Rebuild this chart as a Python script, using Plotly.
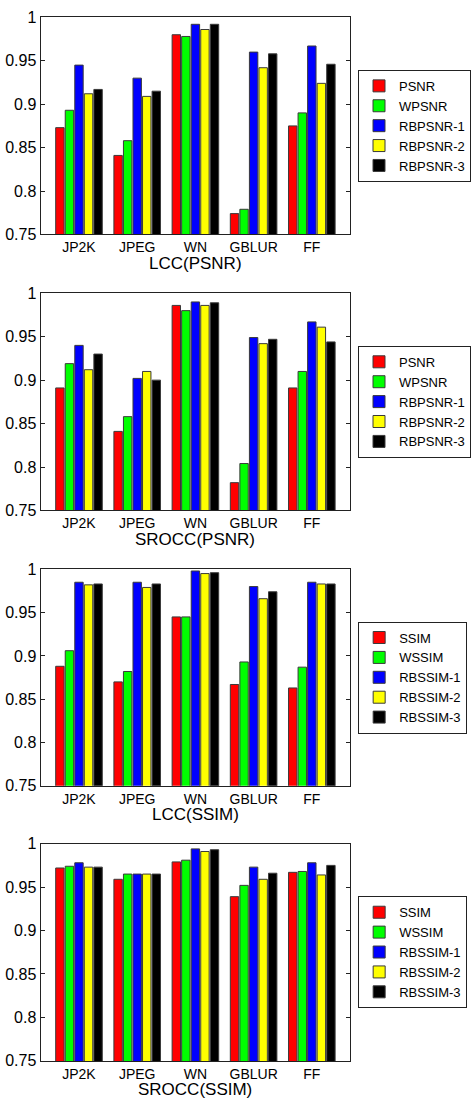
import plotly.graph_objects as go

categories = ["JP2K", "JPEG", "WN", "GBLUR", "FF"]

psnr_names = ["PSNR", "WPSNR", "RBPSNR-1", "RBPSNR-2", "RBPSNR-3"]
ssim_names = ["SSIM", "WSSIM", "RBSSIM-1", "RBSSIM-2", "RBSSIM-3"]
colors = ["#FF0000", "#00FF00", "#0000FF", "#FFFF00", "#000000"]

# one list per method, values per category
lcc_psnr = [
    [0.873, 0.841, 0.980, 0.774, 0.875],
    [0.893, 0.858, 0.978, 0.779, 0.890],
    [0.945, 0.930, 0.992, 0.960, 0.967],
    [0.912, 0.909, 0.986, 0.942, 0.924],
    [0.917, 0.915, 0.992, 0.958, 0.946],
]
srocc_psnr = [
    [0.891, 0.841, 0.986, 0.782, 0.891],
    [0.919, 0.858, 0.980, 0.804, 0.910],
    [0.940, 0.902, 0.990, 0.949, 0.967],
    [0.912, 0.910, 0.986, 0.942, 0.961],
    [0.930, 0.900, 0.989, 0.947, 0.944],
]
lcc_ssim = [
    [0.888, 0.870, 0.945, 0.867, 0.863],
    [0.906, 0.882, 0.945, 0.893, 0.887],
    [0.985, 0.985, 0.998, 0.980, 0.985],
    [0.982, 0.979, 0.995, 0.966, 0.983],
    [0.983, 0.983, 0.996, 0.974, 0.983],
]
srocc_ssim = [
    [0.972, 0.959, 0.979, 0.939, 0.967],
    [0.974, 0.965, 0.981, 0.952, 0.968],
    [0.978, 0.965, 0.994, 0.973, 0.978],
    [0.973, 0.965, 0.991, 0.959, 0.964],
    [0.973, 0.965, 0.993, 0.966, 0.975],
]

titles = ["LCC(PSNR)", "SROCC(PSNR)", "LCC(SSIM)", "SROCC(SSIM)"]
y_ticks = [0.75, 0.8, 0.85, 0.9, 0.95, 1.0]
y_ticktext = ["0.75", "0.8", "0.85", "0.9", "0.95", "1"]

panels = [
    (lcc_psnr, psnr_names),
    (srocc_psnr, psnr_names),
    (lcc_ssim, ssim_names),
    (srocc_ssim, ssim_names),
]

W, H = 471, 1107
# plot areas in pixels (top, bottom)
areas = [(9.5, 230.0), (289.7, 510.3), (570.0, 790.0), (848.7, 1069.3)]
x_dom = [41 / W, 354 / W]

FONT = "Arial, 'Liberation Sans', Helvetica, sans-serif"

fig = go.Figure()
layout_updates = {}
annotations = []
for i, ((data, names), title, (top, bot)) in enumerate(zip(panels, titles, areas)):
    n = i + 1
    xa = "x" if n == 1 else f"x{n}"
    ya = "y" if n == 1 else f"y{n}"
    lg = "legend" if n == 1 else f"legend{n}"
    for vals, name, col in zip(data, names, colors):
        fig.add_trace(go.Bar(
            x=categories, y=vals, name=name, xaxis=xa, yaxis=ya, legend=lg,
            marker=dict(color=col, line=dict(color="#3a3a3a", width=1)),
        ))
    xkey = "xaxis" if n == 1 else f"xaxis{n}"
    ykey = "yaxis" if n == 1 else f"yaxis{n}"
    layout_updates[xkey] = dict(
        domain=x_dom, anchor=ya, range=[-0.66, 4.66],
        showline=True, linecolor="#222222", linewidth=1, mirror=True,
        ticks="", tickfont=dict(size=14, color="black", family=FONT),
        showgrid=False, zeroline=False, fixedrange=True,
    )
    layout_updates[ykey] = dict(
        domain=[1 - bot / H, 1 - top / H], anchor=xa, range=[0.75, 1.0],
        tickvals=y_ticks, ticktext=y_ticktext,
        showline=True, linecolor="#222222", linewidth=1, mirror="ticks",
        ticks="inside", ticklen=4, tickcolor="#222222",
        tickfont=dict(size=16, color="black", family=FONT),
        showgrid=False, zeroline=False, fixedrange=True,
    )
    layout_updates[lg] = dict(
        x=362 / W, xanchor="left", y=1 - ((top + bot) / 2) / H, yanchor="middle",
        bordercolor="#222222", borderwidth=1, bgcolor="white",
        font=dict(size=13, color="black", family=FONT),
        traceorder="normal", tracegroupgap=0, itemwidth=30,
    )
    annotations.append(dict(
        text=title, xref="paper", yref="paper",
        x=(x_dom[0] + x_dom[1]) / 2, y=1 - (bot + 29.5) / H,
        xanchor="center", yanchor="middle", showarrow=False,
        font=dict(size=17, color="black", family=FONT),
    ))

fig.update_layout(
    width=W, height=H, margin=dict(l=0, r=0, t=0, b=0),
    paper_bgcolor="white", plot_bgcolor="white",
    barmode="group", bargap=0.18, bargroupgap=0.12,
    showlegend=True, font=dict(family=FONT, color="black"),
    annotations=annotations,
    **layout_updates,
)

fig.write_html("out.html")
